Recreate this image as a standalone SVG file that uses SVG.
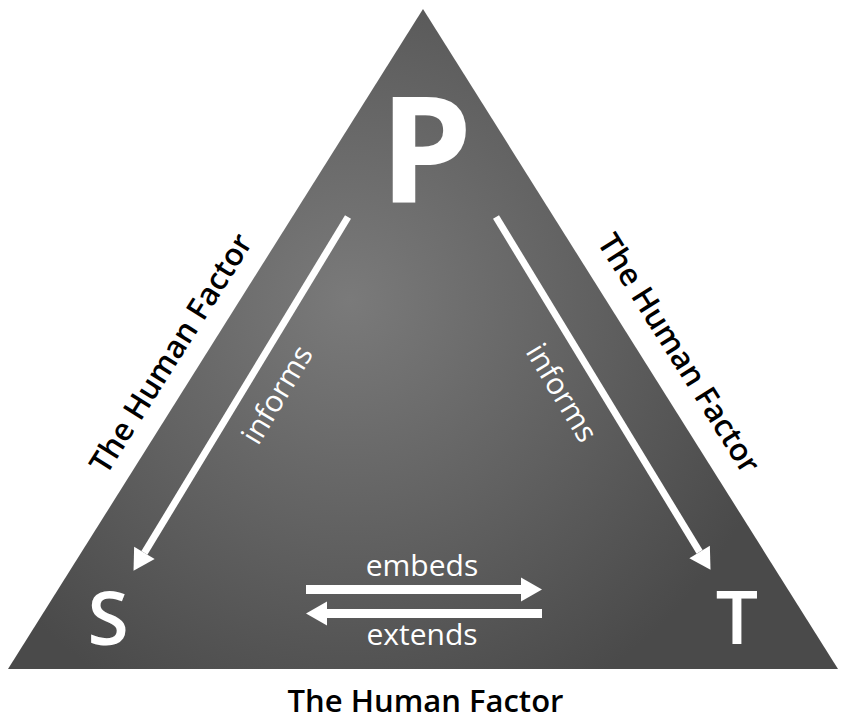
<svg xmlns="http://www.w3.org/2000/svg" width="851" height="721" viewBox="0 0 851 721">
<defs>
<radialGradient id="tri" gradientUnits="userSpaceOnUse" cx="350" cy="300" r="450">
<stop offset="0" stop-color="#7a7a7a"/>
<stop offset="0.55" stop-color="#606060"/>
<stop offset="1" stop-color="#4a4a4a"/>
</radialGradient>
<marker id="head" markerUnits="userSpaceOnUse" markerWidth="24" markerHeight="26" refX="0" refY="12" orient="auto" viewBox="0 0 24 24" overflow="visible">
<path d="M0,0 L21,12 L0,24 z" fill="#ffffff"/>
</marker>
</defs>
<style>
.lbl{font-family:"Open Sans","Liberation Sans",sans-serif;fill:#ffffff;font-size:30px;text-anchor:middle}
.side{font-family:"Open Sans","Liberation Sans",sans-serif;font-size:31px;font-weight:600;fill:#000000;text-anchor:middle}
.node{font-family:"Open Sans","Liberation Sans",sans-serif;fill:#ffffff;text-anchor:middle}
.conn{stroke:#ffffff;fill:none}
</style>
<rect width="851" height="721" fill="#ffffff"/>
<polygon id="triangle" points="423,9 8,669 838,669" fill="url(#tri)"/>
<g id="node-P"><text class="node" x="426" y="202" font-size="148" font-weight="700">P</text></g>
<g id="node-S"><text class="node" x="108" y="645" font-size="75" font-weight="600">S</text></g>
<g id="node-T"><text class="node" x="737" y="644" font-size="75" font-weight="600">T</text></g>
<g id="connectors">
<line class="conn" x1="348" y1="217" x2="144.4" y2="552.9" stroke-width="7" marker-end="url(#head)"/>
<line class="conn" x1="496" y1="217" x2="699.6" y2="551.9" stroke-width="7" marker-end="url(#head)"/>
<line class="conn" x1="306" y1="589.5" x2="521" y2="589.5" stroke-width="9" marker-end="url(#head)"/>
<line class="conn" x1="542" y1="613.5" x2="327" y2="613.5" stroke-width="9" marker-end="url(#head)"/>
</g>
<g id="labels">
<text class="lbl" x="286" y="400" transform="rotate(-58.9 286 400)">informs</text>
<text class="lbl" x="553" y="398" transform="rotate(58.9 553 398)">informs</text>
<text class="lbl" x="422" y="576">embeds</text>
<text class="lbl" x="422" y="645">extends</text>
<text class="side" x="180" y="359" transform="rotate(-57.8 180 359)">The Human Factor</text>
<text class="side" x="670" y="359" transform="rotate(57.8 670 359)">The Human Factor</text>
<text class="side" x="425.5" y="712">The Human Factor</text>
</g>
</svg>
